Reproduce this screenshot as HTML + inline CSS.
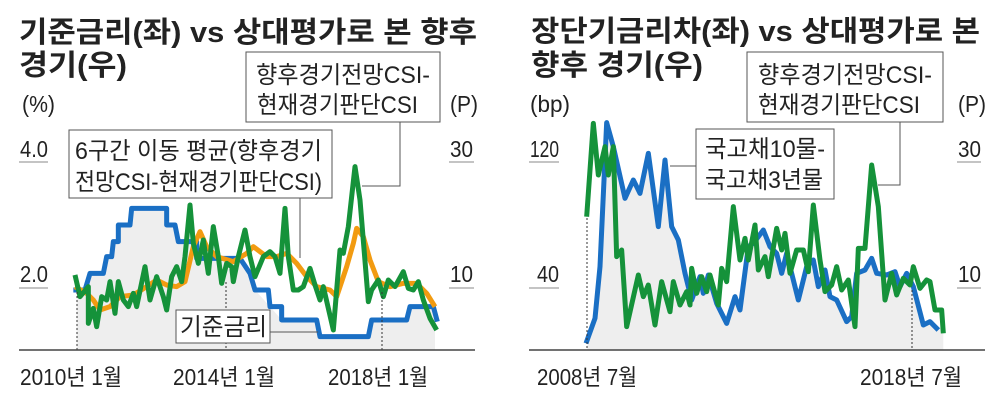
<!DOCTYPE html>
<html><head><meta charset="utf-8"><style>
html,body{margin:0;padding:0;background:#fff;}
svg text{font-family:"Liberation Sans","Noto Sans CJK KR",sans-serif;fill:#222;}
.t{font-weight:bold;font-size:29px;}
.l{font-size:24px;}
.n{font-size:23px;}
</style></head><body>
<svg width="1000" height="402" viewBox="0 0 1000 402" xmlns="http://www.w3.org/2000/svg">
<!-- LEFT -->
<text class="t" x="19" y="42" textLength="458" lengthAdjust="spacingAndGlyphs">기준금리(좌) vs 상대평가로 본 향후</text>
<text class="t" x="19" y="75" textLength="108" lengthAdjust="spacingAndGlyphs">경기(우)</text>
<text class="n" x="22" y="112" textLength="33" lengthAdjust="spacingAndGlyphs">(%)</text>
<text class="n" x="450" y="112" textLength="28" lengthAdjust="spacingAndGlyphs">(P)</text>
<text class="n" x="20" y="157" textLength="28" lengthAdjust="spacingAndGlyphs">4.0</text>
<text class="n" x="20" y="282" textLength="28" lengthAdjust="spacingAndGlyphs">2.0</text>
<text class="n" x="450" y="157" textLength="23" lengthAdjust="spacingAndGlyphs">30</text>
<text class="n" x="450" y="282" textLength="23" lengthAdjust="spacingAndGlyphs">10</text>
<g stroke="#888" stroke-width="1"><line x1="19" y1="162" x2="48" y2="162"/><line x1="19" y1="288" x2="48" y2="288"/><line x1="449" y1="162" x2="474" y2="162"/><line x1="449" y1="288" x2="474" y2="288"/></g>
<g transform="translate(0,100) scale(0.33333)" fill="none" stroke-linejoin="round">
<polygon fill="#eeeeee" stroke="none" points="230,750 230,570 255,570 270,520 310,520 320,470 335,470 340,425 355,425 355,375 390,375 395,325 500,325 500,375 525,375 535,425 590,425 590,475 720,475 750,520 765,570 810,620 845,660 950,660 965,710 1105,710 1115,660 1220,660 1230,620 1300,620 1305,660 1305,750"/>
<polyline stroke="#1a6fc4" stroke-width="15" points="220,570 255,570 270,520 310,520 320,470 335,470 340,425 355,425 355,375 390,375 395,325 500,325 500,375 525,375 535,425 590,425 590,475 720,475 750,520 765,570 805,570 810,620 845,620 845,660 950,660 960,710 1105,710 1115,660 1220,660 1230,620 1300,620 1312,665"/>
<polyline stroke="#f29b11" stroke-width="15" points="225,560 260,580 280,600 300,630 330,620 360,590 400,585 440,560 470,540 500,555 530,560 555,545 580,440 600,395 620,440 650,470 700,485 740,460 760,440 800,470 830,470 860,460 890,490 920,530 950,560 990,570 1010,590 1040,500 1060,430 1070,385 1090,410 1110,480 1135,545 1170,560 1210,550 1250,550 1280,580 1305,620"/>
<polyline stroke="#15923a" stroke-width="15" points="225,525 240,590 265,560 265,670 280,625 290,680 305,590 320,600 330,545 345,640 355,545 370,600 385,620 400,580 410,620 435,500 450,600 470,530 490,590 500,630 515,530 530,500 545,545 555,470 570,315 580,430 595,490 610,420 625,520 640,380 655,470 665,550 680,490 695,500 700,545 715,470 735,390 750,470 765,530 790,470 810,455 825,470 840,520 855,325 865,470 880,570 895,570 910,560 930,505 945,555 960,600 970,560 1000,690 1020,450 1030,460 1045,380 1065,200 1080,300 1105,605 1115,570 1135,540 1150,590 1165,540 1185,560 1210,515 1225,565 1240,570 1255,545 1270,600 1290,655 1310,690"/>
</g>
<g stroke="#333" stroke-width="1" stroke-dasharray="2,2"><line x1="77" y1="292" x2="77" y2="350"/><line x1="226" y1="282" x2="226" y2="350"/><line x1="382" y1="292" x2="382" y2="350"/></g>
<line x1="19" y1="350" x2="475" y2="350" stroke="#444" stroke-width="1.5"/>
<g fill="none" stroke="#555" stroke-width="1">
<rect x="246" y="52" width="194" height="70" fill="#fff"/>
<polyline points="400,122 400,186 362,186"/>
<rect x="69" y="130" width="263" height="68" fill="#fff"/>
<polyline points="300,198 300,258"/>
<rect x="176" y="310" width="94" height="33" fill="#fff"/>
<polyline points="270,332 318,332"/>
</g>
<text class="l" x="256" y="83" textLength="174" lengthAdjust="spacingAndGlyphs">향후경기전망CSI-</text>
<text class="l" x="257" y="113" textLength="161" lengthAdjust="spacingAndGlyphs">현재경기판단CSI</text>
<text class="l" x="75" y="159" textLength="247" lengthAdjust="spacingAndGlyphs">6구간 이동 평균(향후경기</text>
<text class="l" x="75" y="190" textLength="247" lengthAdjust="spacingAndGlyphs">전망CSI-현재경기판단CSI)</text>
<text class="l" x="180" y="335" textLength="87" lengthAdjust="spacingAndGlyphs">기준금리</text>
<text class="n" x="20" y="385" textLength="102" lengthAdjust="spacingAndGlyphs">2010년 1월</text>
<text class="n" x="173" y="385" textLength="102" lengthAdjust="spacingAndGlyphs">2014년 1월</text>
<text class="n" x="328" y="385" textLength="100" lengthAdjust="spacingAndGlyphs">2018년 1월</text>

<!-- RIGHT -->
<text class="t" x="531" y="41" textLength="449" lengthAdjust="spacingAndGlyphs">장단기금리차(좌) vs 상대평가로 본</text>
<text class="t" x="531" y="75" textLength="172" lengthAdjust="spacingAndGlyphs">향후 경기(우)</text>
<text class="n" x="530" y="112" textLength="40" lengthAdjust="spacingAndGlyphs">(bp)</text>
<text class="n" x="958" y="112" textLength="28" lengthAdjust="spacingAndGlyphs">(P)</text>
<text class="n" x="530" y="157" textLength="29" lengthAdjust="spacingAndGlyphs">120</text>
<text class="n" x="537" y="282" textLength="22" lengthAdjust="spacingAndGlyphs">40</text>
<text class="n" x="958" y="157" textLength="23" lengthAdjust="spacingAndGlyphs">30</text>
<text class="n" x="958" y="282" textLength="23" lengthAdjust="spacingAndGlyphs">10</text>
<g stroke="#888" stroke-width="1"><line x1="529" y1="162" x2="559" y2="162"/><line x1="529" y1="288" x2="559" y2="288"/><line x1="957" y1="162" x2="981" y2="162"/><line x1="957" y1="288" x2="981" y2="288"/></g>
<g transform="translate(500,100) scale(0.33333)" fill="none" stroke-linejoin="round">
<polygon fill="#eeeeee" stroke="none" points="262,750 262,730 285,655 300,500 320,68 340,140 375,295 400,240 420,280 445,160 475,380 495,180 515,380 535,420 555,520 575,600 600,530 610,580 625,525 650,610 680,670 705,590 720,630 745,440 760,430 790,390 810,440 830,460 845,520 860,460 875,520 895,600 920,500 940,480 955,560 975,510 990,590 1010,600 1040,665 1055,650 1070,520 1095,510 1115,475 1130,520 1160,525 1185,515 1200,560 1220,520 1240,560 1270,675 1290,665 1330,690 1330,750"/>
<polyline stroke="#1a6fc4" stroke-width="15" points="258,730 285,655 300,500 320,68 340,140 375,295 400,240 420,280 445,160 475,380 495,180 515,380 535,420 555,520 575,600 600,530 610,580 625,525 650,610 680,670 705,590 720,630 745,440 760,430 790,390 810,440 830,460 845,520 860,460 875,520 895,600 920,500 940,480 955,560 975,510 990,590 1010,600 1040,665 1055,650 1070,520 1095,510 1115,475 1130,520 1160,525 1185,515 1200,560 1220,520 1240,560 1270,675 1290,665 1315,690"/>
<polyline stroke="#15923a" stroke-width="15" points="260,350 280,70 295,225 315,140 325,225 340,140 350,470 365,450 380,680 415,525 430,590 445,555 465,675 485,545 510,635 520,545 540,615 560,575 570,615 575,505 590,580 605,530 620,575 630,525 655,615 665,505 680,545 700,320 720,480 735,415 745,480 765,375 775,510 795,470 805,530 830,385 845,450 855,400 870,520 890,450 910,450 925,515 940,315 960,480 975,575 995,555 1010,500 1025,570 1045,540 1065,680 1075,445 1095,445 1115,195 1135,320 1155,600 1175,520 1190,585 1210,535 1230,555 1240,500 1260,565 1280,540 1290,545 1305,630 1325,630 1330,700"/>
</g>
<g stroke="#333" stroke-width="1" stroke-dasharray="2,2"><line x1="587" y1="218" x2="587" y2="350"/><line x1="912" y1="290" x2="912" y2="350"/></g>
<line x1="529" y1="350" x2="985" y2="350" stroke="#444" stroke-width="1.5"/>
<g fill="none" stroke="#555" stroke-width="1">
<rect x="747" y="52" width="196" height="70" fill="#fff"/>
<polyline points="900,122 900,185 878,185"/>
<rect x="696" y="129" width="138" height="70" fill="#fff"/>
<polyline points="696,166 670,166"/>
</g>
<text class="l" x="758" y="83" textLength="174" lengthAdjust="spacingAndGlyphs">향후경기전망CSI-</text>
<text class="l" x="758" y="113" textLength="162" lengthAdjust="spacingAndGlyphs">현재경기판단CSI</text>
<text class="l" x="705" y="157" textLength="120" lengthAdjust="spacingAndGlyphs">국고채10물-</text>
<text class="l" x="705" y="188" textLength="118" lengthAdjust="spacingAndGlyphs">국고채3년물</text>
<text class="n" x="537" y="385" textLength="100" lengthAdjust="spacingAndGlyphs">2008년 7월</text>
<text class="n" x="860" y="385" textLength="102" lengthAdjust="spacingAndGlyphs">2018년 7월</text>
</svg>
</body></html>
